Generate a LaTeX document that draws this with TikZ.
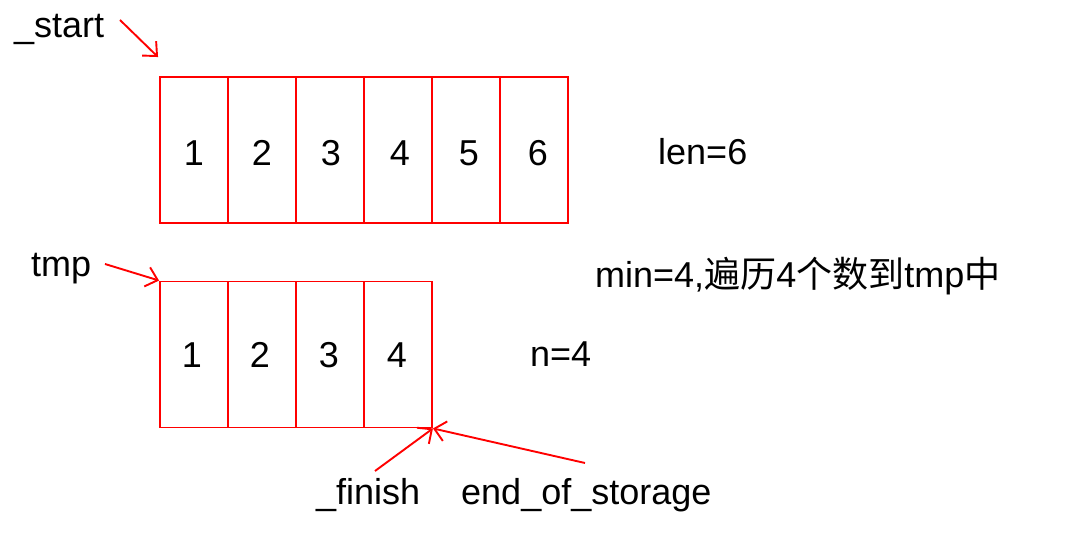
\documentclass[tikz,border=0pt]{standalone}
\usepackage{fontspec}
\setmainfont{Liberation Sans}
\newfontfamily\cjk{Noto Sans CJK SC}
\usetikzlibrary{arrows.meta}
\tikzset{
  cell/.style={draw=red, line width=1.9pt, minimum width=68pt, minimum height=146pt, inner sep=0pt},
  num/.style={inner sep=0pt, font=\fontsize{36}{40}\selectfont},
  lbl/.style={inner sep=0pt, font=\fontsize{36}{40}\selectfont},
  ptr/.style={draw=red, line width=1.9pt, -{Straight Barb[length=11pt,width=20pt,line width=1.9pt]}}
}
\begin{document}
\begin{tikzpicture}[x=1pt,y=-1pt]
\useasboundingbox (0,0) rectangle (1072,534);
% top array
\foreach \i/\x in {1/194,2/262,3/330,4/398,5/466,6/534}
  \node[cell] (a\i) at (\x,150) {};
\foreach \i/\x in {1/194,2/262,3/331,4/400,5/469,6/538}
  \node[num] (na\i) at (\x,153) {\i};
% bottom array
\foreach \i/\x in {1/194,2/262,3/330,4/398}
  \node[cell] (b\i) at (\x,354.5) {};
\foreach \i/\x in {1/192,2/260,3/329,4/397}
  \node[num] (nb\i) at (\x,355) {\i};
% labels
\node[lbl, anchor=base west] (start) at (14,38) {\_start};
\node[lbl, anchor=base west] (tmp) at (31,277) {tmp};
\node[lbl, anchor=base west] (len) at (658,165) {len=6};
\node[lbl, anchor=base west] (minl) at (595,288) {min=4,{\cjk 遍历}4{\cjk 个数到}tmp{\cjk 中}};
\node[lbl, anchor=base west] (n) at (530,367) {n=4};
\node[lbl, anchor=base west] (finish) at (316,505) {\_finish};
\node[lbl, anchor=base west] (eos) at (461,505) {end\_of\_storage};
% tail points
\coordinate (ts) at (120,20);
\coordinate (tt) at (105,264);
\coordinate (tf) at (375,471);
\coordinate (te) at (585,463);
% pointers
\draw[ptr] (ts) -- ([shift={(-1pt,19pt)}]a1.north west);
\draw[ptr] (tt) -- (b1.north west);
\draw[ptr] (tf) -- (b4.south east);
\draw[ptr] (te) -- (b4.south east);
\end{tikzpicture}
\end{document}
